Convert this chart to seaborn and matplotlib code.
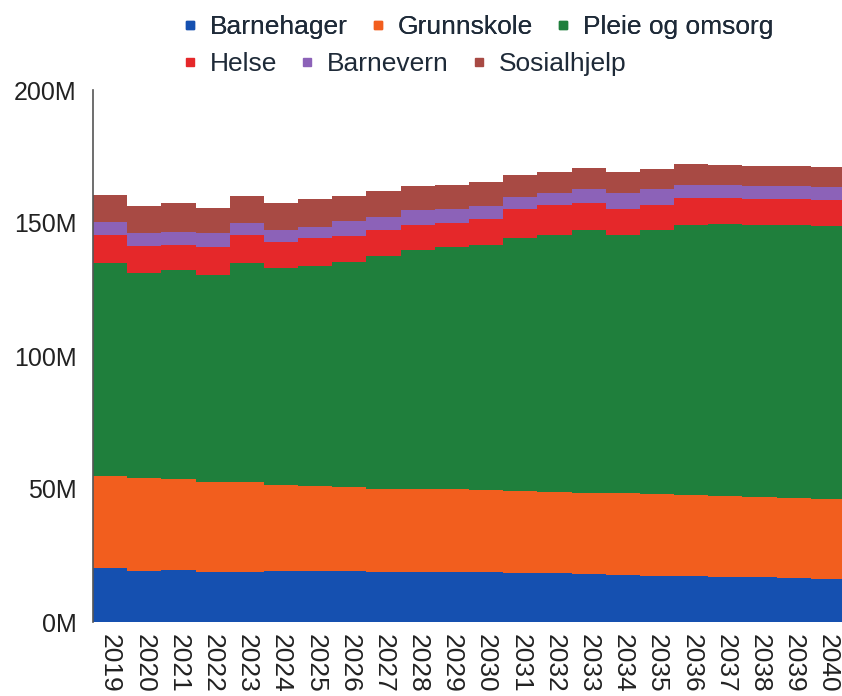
import matplotlib
matplotlib.use('Agg')
import matplotlib.pyplot as plt
from matplotlib.lines import Line2D
from matplotlib.ticker import FuncFormatter
import pandas as pd
import seaborn as sns

years = list(range(2019, 2041))
categories = ['Barnehager', 'Grunnskole', 'Pleie og omsorg', 'Helse', 'Barnevern', 'Sosialhjelp']

# values in millions
barnehager = [20.2, 19.2, 19.5, 18.9, 18.7, 19.2, 19.2, 19.2, 18.9, 18.9, 18.9,
              18.7, 18.5, 18.3, 18.0, 17.8, 17.4, 17.3, 17.0, 16.8, 16.4, 16.2]
grunnskole = [34.7, 34.8, 34.1, 33.8, 34.0, 32.3, 31.9, 31.7, 31.0, 31.0, 31.0,
              30.9, 30.7, 30.7, 30.6, 30.6, 30.6, 30.4, 30.4, 30.2, 30.2, 30.0]
pleie = [80.2, 77.1, 78.7, 77.8, 82.1, 81.4, 82.7, 84.6, 87.7, 89.9, 91.0,
         92.1, 95.0, 96.5, 98.8, 97.1, 99.4, 101.5, 102.2, 102.2, 102.6, 102.7]
helse = [10.4, 10.3, 9.4, 10.6, 10.7, 10.1, 10.4, 9.7, 9.8, 9.4, 9.0,
         9.7, 10.9, 11.3, 10.0, 9.6, 9.4, 10.1, 9.7, 9.7, 9.7, 9.7]
barnevern = [5.0, 4.7, 5.0, 5.0, 4.6, 4.4, 4.4, 5.6, 5.0, 5.7, 5.2,
             5.0, 4.6, 4.4, 5.2, 6.1, 5.9, 5.0, 5.0, 5.0, 5.0, 5.0]
sosialhjelp = [10.0, 10.3, 10.7, 9.4, 10.1, 10.0, 10.3, 9.3, 9.8, 9.0, 9.2,
               9.1, 8.3, 8.1, 8.0, 7.8, 7.6, 7.9, 7.5, 7.5, 7.4, 7.3]

colors = {'Barnehager': '#1550b0', 'Grunnskole': '#f25e1e', 'Pleie og omsorg': '#1f7f3c',
          'Helse': '#e5282a', 'Barnevern': '#8c62b8', 'Sosialhjelp': '#a84a44'}

series = [barnehager, grunnskole, pleie, helse, barnevern, sosialhjelp]
df = pd.concat([pd.DataFrame({'year': years, 'value': vals, 'kategori': cat})
                for cat, vals in zip(categories, series)], ignore_index=True)

sns.set_theme(style='white')
plt.rcParams['font.family'] = ['Liberation Sans', 'DejaVu Sans']

fig = plt.figure(figsize=(8.42, 6.96), dpi=100)
ax = fig.add_axes([93 / 842, 74 / 696, 752 / 842, 532 / 696])

# seaborn stacks the last hue level at the bottom
sns.histplot(data=df, x='year', weights='value', hue='kategori', hue_order=categories[::-1],
             multiple='stack', discrete=True, element='step', palette=colors,
             alpha=1, linewidth=0, legend=False, ax=ax)

ax.set_xlim(2018.5, 2040.5)
ax.set_ylim(0, 200)
ax.set_yticks([0, 50, 100, 150, 200])
ax.yaxis.set_major_formatter(FuncFormatter(lambda v, p: f'{v:.0f}M'))
ax.set_xticks(years)
ax.set_xticklabels([str(y) for y in years], rotation=-90, ha='center', va='top')
ax.tick_params(axis='y', labelsize=18, pad=12, length=0, colors='#222222')
ax.tick_params(axis='x', labelsize=19, pad=9, length=0, colors='#222222')
ax.set_xlabel('')
ax.set_ylabel('')

for side in ['top', 'right', 'bottom']:
    ax.spines[side].set_visible(False)
ax.spines['left'].set_color('#555555')
ax.spines['left'].set_linewidth(1.2)

def handles(names):
    return [Line2D([], [], marker='s', linestyle='none', markersize=5.5,
                   color=colors[n], label=n) for n in names]

leg_kw = dict(ncol=3, frameon=False, fontsize=19, handlelength=0.5, handletextpad=0.5,
              columnspacing=0.9, borderpad=0, borderaxespad=0, labelcolor='#1e2a38',
              loc='upper left')
leg1 = fig.legend(handles=handles(categories[:3]), bbox_to_anchor=(183 / 842, 1 - 15 / 696), **leg_kw)
fig.add_artist(leg1)
fig.legend(handles=handles(categories[3:]), bbox_to_anchor=(183 / 842, 1 - 52 / 696), **leg_kw)

fig.savefig('out.png', dpi=100)
